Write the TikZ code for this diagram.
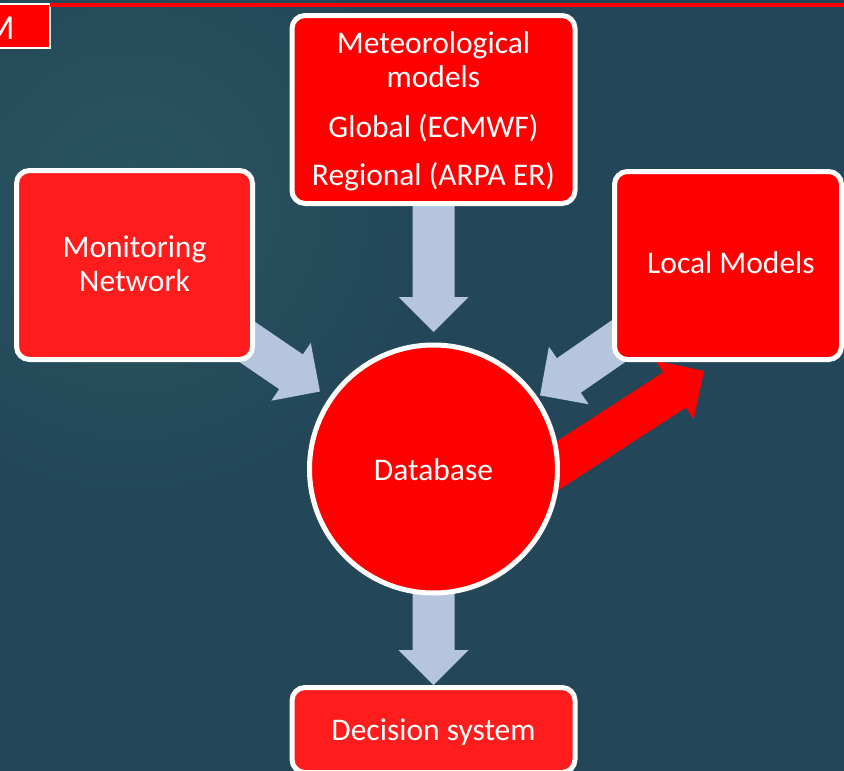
\documentclass[tikz,border=0pt]{standalone}
\usepackage{fontspec}
\setmainfont{Carlito}
\usetikzlibrary{calc}
\definecolor{bgc}{RGB}{35,71,89}
\definecolor{bgl}{RGB}{42,84,96}
\definecolor{arrg}{RGB}{180,197,221}
\definecolor{redA}{RGB}{255,0,0}
\definecolor{redB}{RGB}{255,28,28}
\pgfdeclarelayer{bglayer}
\pgfdeclarelayer{arrlayer}
\pgfsetlayers{bglayer,arrlayer,main}
\newcommand\fatarrow[3]{%
  \coordinate (fab) at ($(#3)!35pt!(#2)$);
  \fill[#1] ($(#2)!21pt!90:(#3)$) -- ($(fab)!21pt!90:(#3)$) -- ($(fab)!35pt!90:(#3)$) -- (#3)
    -- ($(fab)!35pt!-90:(#3)$) -- ($(fab)!21pt!-90:(#3)$) -- ($(#2)!21pt!-90:(#3)$) -- cycle;}
\begin{document}
\begin{tikzpicture}[x=1pt,y=-1pt,
  box/.style={draw=white, line width=5pt, rounded corners=13pt, inner sep=0pt, outer sep=0pt},
  txt/.style={text=white, font=\fontsize{31.5}{34}\selectfont, inner sep=0pt, outer sep=0pt},
  garrow/.style={fill=arrg},
  rarrow/.style={fill=redA}]
\useasboundingbox (0,0) rectangle (844,771);
\begin{pgfonlayer}{bglayer}
\fill[bgc] (0,0) rectangle (844,771);
\shade[inner color=bgl, outer color=bgc] (130,200) circle[radius=300pt];
\end{pgfonlayer}
% nodes
\node[box, fill=redA, minimum width=283pt, minimum height=188pt] (met) at (433.5,109.5) {};
\node[txt, anchor=base] (metT) at (433.5,53) {\begin{tabular}[t]{@{}c@{}}Meteorological\\models\\[16pt]Global (ECMWF)\\[14pt]Regional (ARPA ER)\end{tabular}};
\node[box, fill=redB, minimum width=236pt, minimum height=189pt] (mon) at (134.5,265) {};
\node[txt, anchor=base] (monT) at (134.5,257) {\begin{tabular}[t]{@{}c@{}}Monitoring\\Network\end{tabular}};
\node[box, fill=redA, minimum width=227pt, minimum height=188pt] (loc) at (728,265.5) {};
\node[txt, anchor=base] (locT) at (731,273) {Local Models};
\node[box, fill=redB, minimum width=283pt, minimum height=85pt] (dec) at (433.5,730) {};
\node[txt, anchor=base] (decT) at (433.5,740) {Decision system};
\node[circle, draw=white, line width=5pt, fill=redA, minimum size=248pt, inner sep=0pt, outer sep=0pt] (db) at (433.5,469) {};
\node[txt, anchor=base] (dbT) at (433.5,480) {Database};
% top-left tag and rule
\node[rectangle, draw=white, line width=2pt, fill=redA, minimum width=70pt, minimum height=44pt, inner sep=0pt, outer sep=0pt] (tag) at (15,26) {};
\node[txt, font=\fontsize{35}{40}\selectfont, anchor=base east] (tagT) at (14.5,39) {M};
\draw[redA, line width=4pt] ($(tag.north east)+(0,1)$) -- ++(800,0);
% arrows
\begin{pgfonlayer}{arrlayer}
\coordinate (tMet) at ($(db.center)!137pt!(met.center)$);
\coordinate (tMon) at ($(db.center)!137.5pt!(mon.center)$);
\coordinate (tLoc) at ($(db.center)!129.5pt!(loc.center)$);
\coordinate (tDec) at ($(dec.north)+(0,-2.5)$);
\coordinate (rS) at ($(db.center)+(86.5,21)$);
\coordinate (rT) at ($(db.center)+(270.5,-98)$);
\fatarrow{garrow}{met.center}{tMet}
\fatarrow{garrow}{mon.center}{tMon}
\fatarrow{garrow}{loc.center}{tLoc}
\fatarrow{garrow}{db.center}{tDec}
\fatarrow{rarrow}{rS}{rT}
\end{pgfonlayer}
\end{tikzpicture}
\end{document}
